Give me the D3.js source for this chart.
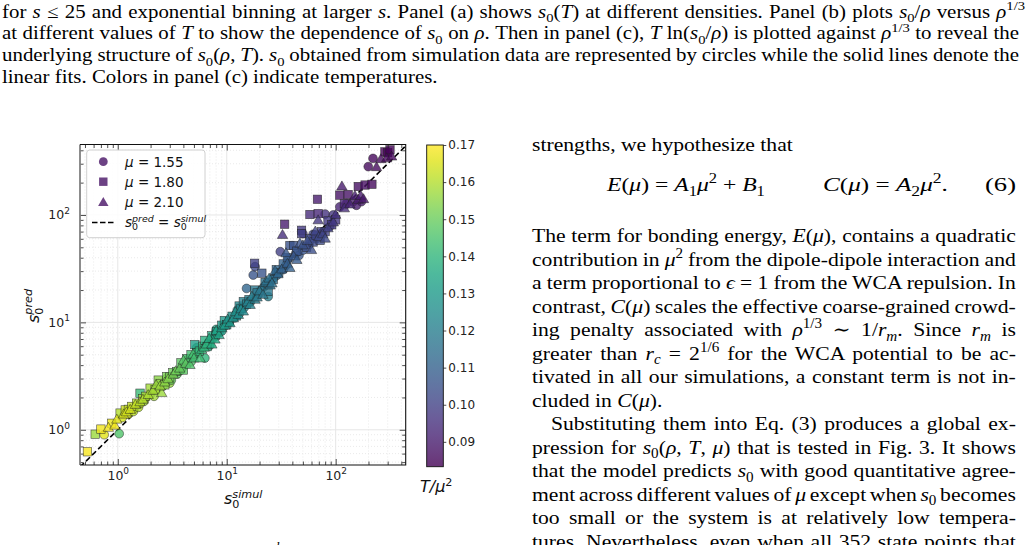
<!DOCTYPE html>
<html>
<head>
<meta charset="utf-8">
<script src="https://cdn.jsdelivr.net/npm/d3@7"></script>
<style>
  body { margin: 0; background: #fff; }
  svg { display: block; }
</style>
</head>
<body>
<div id="fig"></div>
<script>
// s0 simulated vs predicted, coloured by T/mu^2 : [simul, pred, T/mu^2]
var circlePts = [ // mu = 1.55
  [0.75, 0.90, 0.166], [1.03, 0.92, 0.146], [1.10, 1.30, 0.164], [1.25, 1.40, 0.163],
  [1.39, 1.48, 0.161], [1.55, 1.62, 0.160], [1.6, 1.75, 0.160], [1.75, 1.85, 0.158],
  [2.0, 2.15, 0.157], [2.15, 2.05, 0.158], [2.3, 2.4, 0.156], [2.6, 2.55, 0.155],
  [2.8, 3.0, 0.154], [3.0, 2.72, 0.156], [3.1, 2.9, 0.150], [3.5, 3.3, 0.149],
  [3.8, 3.6, 0.149], [4.0, 3.9, 0.147], [4.4, 4.5, 0.146], [4.7, 4.3, 0.146],
  [5.0, 4.8, 0.143], [5.3, 5.8, 0.142], [5.6, 5.5, 0.141], [6.3, 4.65, 0.140],
  [6.8, 6.5, 0.138], [7.0, 6.1, 0.138], [7.6, 7.2, 0.136], [8.0, 8.6, 0.134],
  [8.5, 8.0, 0.133], [9.0, 8.3, 0.132], [9.5, 9.2, 0.131], [10.5, 10.0, 0.129],
  [11.8, 11.0, 0.127], [12.5, 13.0, 0.125], [13.0, 12.0, 0.125], [14.5, 13.8, 0.123],
  [16.5, 15.5, 0.121], [15.2, 20.7, 0.112], [17.5, 27.6, 0.106], [18.2, 33.0, 0.102],
  [24.0, 17.4, 0.121], [19.5, 18.0, 0.119], [20.5, 20.0, 0.117], [22.0, 21.5, 0.117],
  [25.5, 24.0, 0.115], [27.0, 26.0, 0.114], [29.0, 27.5, 0.113], [33.0, 31.0, 0.111],
  [35.0, 34.0, 0.110], [31.0, 45.5, 0.100], [37.0, 39.0, 0.109], [43.0, 44.0, 0.107],
  [46.0, 42.0, 0.107], [50.0, 47.0, 0.106], [50.0, 67.0, 0.098], [57.0, 53.0, 0.104],
  [62.0, 66.0, 0.101], [66.0, 60.0, 0.102], [75.0, 68.0, 0.101], [80.0, 102.0, 0.096],
  [95.0, 100.0, 0.097], [88.0, 78.0, 0.100], [109.0, 119.0, 0.092], [126.0, 128.0, 0.091],
  [145.0, 133.0, 0.090], [155.0, 123.0, 0.090], [172.0, 133.0, 0.090], [199.0, 282.0, 0.086],
  [220.0, 336.0, 0.085]
];
var squarePts = [ // mu = 1.80
  [0.526, 0.624, 0.169], [0.62, 0.91, 0.157], [0.70, 1.015, 0.168], [0.88, 1.15, 0.167],
  [1.05, 1.43, 0.160], [1.17, 1.53, 0.163], [1.25, 1.55, 0.162], [1.34, 1.65, 0.162],
  [1.49, 1.77, 0.161], [1.60, 2.19, 0.142], [1.70, 1.95, 0.160], [1.80, 2.05, 0.159],
  [1.98, 2.44, 0.158], [2.20, 2.36, 0.159], [2.35, 2.90, 0.155], [2.45, 2.70, 0.156],
  [2.70, 2.62, 0.155], [2.81, 3.13, 0.153], [3.00, 3.10, 0.152], [3.20, 3.40, 0.151],
  [3.47, 3.49, 0.150], [3.8, 4.2, 0.148], [4.0, 3.6, 0.148], [4.3, 4.6, 0.145],
  [4.7, 5.0, 0.144], [5.1, 6.2, 0.132], [5.3, 5.2, 0.142], [5.6, 5.4, 0.141],
  [6.0, 6.0, 0.140], [6.3, 6.8, 0.138], [6.6, 5.95, 0.138], [7.3, 7.5, 0.136],
  [7.9, 7.6, 0.134], [8.1, 8.2, 0.133], [9.0, 9.4, 0.131], [9.5, 10.4, 0.130],
  [10.0, 9.5, 0.129], [10.6, 10.2, 0.128], [11.2, 11.4, 0.127], [12.3, 11.5, 0.126],
  [13.0, 14.2, 0.124], [13.5, 13.5, 0.124], [14.2, 15.6, 0.121], [15.2, 14.8, 0.122],
  [16.0, 16.3, 0.120], [18.0, 20.0, 0.118], [19.0, 18.8, 0.118], [18.0, 35.5, 0.100],
  [21.0, 28.7, 0.106], [22.5, 23.5, 0.116], [24.0, 19.4, 0.118], [26.7, 25.0, 0.115],
  [28.5, 31.0, 0.112], [30.0, 29.0, 0.113], [33.0, 35.0, 0.110], [34.0, 82.0, 0.090],
  [36.0, 40.0, 0.108], [38.0, 52.0, 0.105], [41.0, 52.0, 0.105], [44.0, 46.0, 0.106],
  [48.6, 72.0, 0.098], [48.6, 67.0, 0.100], [54.0, 50.0, 0.104], [58.0, 60.0, 0.102],
  [62.0, 56.0, 0.103], [66.0, 65.0, 0.101], [72.0, 58.0, 0.103], [74.0, 70.0, 0.100],
  [80.0, 70.0, 0.100], [85.0, 88.0, 0.098], [92.0, 81.0, 0.098], [100.0, 90.0, 0.097],
  [58.0, 101.0, 0.094], [69.0, 103.0, 0.093], [68.0, 140.0, 0.090], [120.0, 127.0, 0.092],
  [109.0, 153.0, 0.088], [130.0, 155.0, 0.088], [161.0, 184.0, 0.087], [186.0, 190.0, 0.087],
  [215.0, 193.0, 0.086], [283.0, 387.0, 0.084], [300.0, 380.0, 0.084], [315.0, 404.0, 0.084]
];
var trianglePts = [ // mu = 2.10
  [0.82, 1.04, 0.168], [0.94, 1.09, 0.168], [0.98, 1.24, 0.166], [1.13, 1.38, 0.165],
  [1.20, 1.45, 0.164], [1.30, 1.53, 0.164], [1.45, 1.70, 0.162], [1.60, 1.80, 0.161],
  [1.70, 1.90, 0.160], [1.90, 2.10, 0.159], [2.10, 2.30, 0.158], [2.25, 2.60, 0.157],
  [2.53, 2.19, 0.157], [2.44, 2.53, 0.157], [2.7, 2.75, 0.155], [2.9, 2.95, 0.154],
  [3.23, 3.25, 0.152], [3.4, 3.5, 0.151], [3.7, 3.7, 0.150], [4.0, 4.4, 0.147],
  [4.2, 4.1, 0.148], [4.6, 4.0, 0.146], [4.9, 5.0, 0.144], [5.0, 4.6, 0.144],
  [5.7, 4.6, 0.143], [5.9, 5.55, 0.141], [6.2, 5.8, 0.140], [6.5, 6.2, 0.139],
  [6.9, 7.0, 0.137], [7.3, 6.2, 0.137], [7.8, 6.9, 0.136], [8.0, 8.3, 0.134],
  [8.5, 7.6, 0.134], [9.0, 8.8, 0.132], [9.6, 9.3, 0.131], [10.2, 10.6, 0.129],
  [10.7, 9.8, 0.130], [11.5, 10.9, 0.128], [12.0, 12.4, 0.127], [12.8, 11.7, 0.126],
  [13.5, 13.2, 0.125], [14.2, 12.6, 0.124], [15.5, 15.3, 0.122], [16.4, 14.5, 0.122],
  [17.0, 17.3, 0.120], [18.2, 16.2, 0.120], [19.0, 17.0, 0.119], [20.0, 19.4, 0.118],
  [21.5, 18.0, 0.118], [23.0, 24.0, 0.116], [24.5, 25.5, 0.115], [25.0, 22.0, 0.116],
  [26.0, 23.0, 0.115], [27.8, 30.0, 0.112], [29.5, 28.0, 0.112], [32.0, 31.0, 0.110],
  [35.0, 44.0, 0.107], [36.0, 35.0, 0.109], [38.0, 32.0, 0.110], [41.0, 41.0, 0.107],
  [44.0, 38.0, 0.108], [47.0, 54.0, 0.105], [50.0, 52.0, 0.105], [55.0, 57.0, 0.104],
  [32.5, 65.0, 0.095], [60.0, 47.0, 0.104], [65.0, 70.0, 0.101], [70.0, 62.0, 0.102],
  [76.0, 66.0, 0.101], [80.0, 60.0, 0.102], [69.0, 89.0, 0.097], [85.0, 75.0, 0.100],
  [95.0, 85.0, 0.098], [100.0, 100.0, 0.096], [114.0, 184.0, 0.090], [120.0, 115.0, 0.094],
  [135.0, 125.0, 0.092], [150.0, 150.0, 0.091], [161.0, 138.0, 0.090], [170.0, 150.0, 0.090],
  [180.0, 140.0, 0.089], [237.0, 278.0, 0.086], [260.0, 330.0, 0.086], [294.0, 336.0, 0.085],
  [326.0, 349.0, 0.085]
];
var muLabels = ["1.55", "1.80", "2.10"];
var logTicks = [1, 10, 100];
var cbTicks = [0.09, 0.10, 0.11, 0.12, 0.13, 0.14, 0.15, 0.16, 0.17];
var cbDomain = [0.0833, 0.17];

var svg = d3.select("#fig").append("svg")
  .attr("width", 1028)
  .attr("height", 545);

var serif = "'Liberation Serif', 'DejaVu Serif', serif";
var sans = "'DejaVu Sans', sans-serif";

// text with italic / sub / sup runs; optional justification and stretch
function rich(g, x, y, parts, o) {
  var t = g.append("text")
    .style("font-family", o.font)
    .style("font-size", o.size + "px")
    .attr("fill", o.fill || "#000");
  var shift = 0, prev = null;
  parts.forEach(function(p) {
    var s = p[1] || "";
    var sp = t.append("tspan").text(p[0]);
    var target = 0;
    if (s.indexOf("i") === 0) sp.style("font-style", "italic");
    if (s.indexOf("sub") >= 0) target = o.size * 0.25;
    if (s.indexOf("sup") >= 0) target = -o.size * 0.4;
    if (target !== 0) sp.style("font-size", (o.size * 0.7) + "px");
    if (target !== shift) sp.attr("dy", target - shift);
    shift = target;
    if (p[2] === "back" && prev) sp.attr("dx", -prev.node().getComputedTextLength());
    prev = sp;
  });
  var w = t.node().getComputedTextLength();
  var sx = o.sx || 1;
  if (o.fit) sx = o.width / w;
  if (o.justify) {
    var n = (t.text().match(/ /g) || []).length;
    t.style("word-spacing", ((o.width / sx - w) / n) + "px");
  }
  t.attr("transform", "translate(" + x + "," + y + ") scale(" + sx + ",1)");
  return t;
}

// ---------- caption above (end of previous figure caption) ----------
var cap = svg.append("g");
var capLines = [
  [["for "], ["s", "i"], [" \u2264 25 and exponential binning at larger "], ["s", "i"], [". Panel (a) shows "],
   ["s", "i"], ["0", "sub"], ["("], ["T", "i"], [") at different densities. Panel (b) plots "], ["s", "i"], ["0", "sub"],
   ["/"], ["\u03c1", "i"], [" versus "], ["\u03c1", "i"], ["1/3", "sup"]],
  [["at different values of "], ["T", "i"], [" to show the dependence of "], ["s", "i"], ["0", "sub"], [" on "],
   ["\u03c1", "i"], [". Then in panel (c), "], ["T", "i"], [" ln("], ["s", "i"], ["0", "sub"], ["/"], ["\u03c1", "i"],
   [") is plotted against "], ["\u03c1", "i"], ["1/3", "sup"], [" to reveal the"]],
  [["underlying structure of "], ["s", "i"], ["0", "sub"], ["("], ["\u03c1", "i"], [", "], ["T", "i"], ["). "],
   ["s", "i"], ["0", "sub"], [" obtained from simulation data are represented by circles while the solid lines denote the"]],
  [["linear fits. Colors in panel (c) indicate temperatures."]]
];
capLines.forEach(function(l, i) {
  rich(cap, 2, 17.5 + i * 21.7, l, {font: serif, size: 18.5, sx: 1.13,
    justify: i < 3, width: i === 0 ? 1024 : 1018});
});

// ---------- right column text ----------
var col = svg.append("g");
var colSx = 1.11;
rich(col, 532, 151, [["strengths, we hypothesize that"]], {font: serif, size: 19.5, sx: colSx});
rich(col, 607, 191, [["E", "i"], ["("], ["\u03bc", "i"], [") = "], ["A", "i"], ["1", "sub"], ["\u03bc", "i"], ["2", "sup"],
  [" + "], ["B", "i"], ["1", "sub"]], {font: serif, size: 19.5, fit: true, width: 158});
rich(col, 823, 191, [["C", "i"], ["("], ["\u03bc", "i"], [") = "], ["A", "i"], ["2", "sub"], ["\u03bc", "i"], ["2", "sup"], ["."]],
  {font: serif, size: 19.5, fit: true, width: 125});
rich(col, 985, 191, [["(6)"]], {font: serif, size: 19.5, fit: true, width: 31});

var colLines = [
  [[["The term for bonding energy, "], ["E", "i"], ["("], ["\u03bc", "i"], ["), contains a quadratic"]], 1, 0],
  [[["contribution in "], ["\u03bc", "i"], ["2", "sup"], [" from the dipole-dipole interaction and"]], 1, 0],
  [[["a term proportional to "], ["\u03f5", "i"], [" = 1 from the WCA repulsion. In"]], 1, 0],
  [[["contrast, "], ["C", "i"], ["("], ["\u03bc", "i"], [") scales the effective coarse-grained crowd-"]], 1, 0],
  [[["ing penalty associated with "], ["\u03c1", "i"], ["1/3", "sup"], [" \u223c 1/"], ["r", "i"], ["m", "isub"],
    [". Since "], ["r", "i"], ["m", "isub"], [" is"]], 1, 0],
  [[["greater than "], ["r", "i"], ["c", "isub"], [" = 2"], ["1/6", "sup"], [" for the WCA potential to be ac-"]], 1, 0],
  [[["tivated in all our simulations, a constant term is not in-"]], 1, 0],
  [[["cluded in "], ["C", "i"], ["("], ["\u03bc", "i"], [")."]], 0, 0],
  [[["Substituting them into Eq. (3) produces a global ex-"]], 1, 19],
  [[["pression for "], ["s", "i"], ["0", "sub"], ["("], ["\u03c1", "i"], [", "], ["T", "i"], [", "], ["\u03bc", "i"],
    [") that is tested in Fig. 3. It shows"]], 1, 0],
  [[["that the model predicts "], ["s", "i"], ["0", "sub"], [" with good quantitative agree-"]], 1, 0],
  [[["ment across different values of "], ["\u03bc", "i"], [" except when "], ["s", "i"], ["0", "sub"], [" becomes"]], 1, 0],
  [[["too small or the system is at relatively low tempera-"]], 1, 0],
  [[["tures. Nevertheless, even when all 352 state points that"]], 1, 0]
];
colLines.forEach(function(l, i) {
  rich(col, 532 + l[2], 242 + i * 23.5, l[0], {font: serif, size: 19.5, sx: colSx,
    justify: l[1] === 1, width: 484 - l[2]});
});

// bottom: start of the next caption, cut off
svg.append("text")
  .attr("x", 256).attr("y", 551)
  .style("font-family", serif).style("font-size", "13px").style("font-style", "italic")
  .text("pred");

// ---------- scatter plot ----------
var pL = 80, pR = 405.7, pT = 144.5, pB = 465;
var x = d3.scaleLog().domain([0.45, 439]).range([pL, pR]);
var y = d3.scaleLog().domain([0.47, 453]).range([pB, pT]);
var color = d3.scaleSequential(d3.interpolateViridis).domain(cbDomain);

var isMajor = function(d) { return Math.abs(Math.log10(d) - Math.round(Math.log10(d))) < 1e-9; };
var xMinor = x.ticks().filter(function(d) { return !isMajor(d); });
var yMinor = y.ticks().filter(function(d) { return !isMajor(d); });

var plot = svg.append("g");

// grid
plot.append("g").selectAll("line").data(xMinor).enter().append("line")
  .attr("x1", d => x(d)).attr("x2", d => x(d)).attr("y1", pT).attr("y2", pB)
  .attr("stroke", "#e4e4e4").attr("stroke-width", 0.8).attr("stroke-dasharray", "1,2");
plot.append("g").selectAll("line").data(yMinor).enter().append("line")
  .attr("y1", d => y(d)).attr("y2", d => y(d)).attr("x1", pL).attr("x2", pR)
  .attr("stroke", "#e4e4e4").attr("stroke-width", 0.8).attr("stroke-dasharray", "1,2");
plot.append("g").selectAll("line").data(logTicks).enter().append("line")
  .attr("x1", d => x(d)).attr("x2", d => x(d)).attr("y1", pT).attr("y2", pB)
  .attr("stroke", "#e6e6e6").attr("stroke-width", 1);
plot.append("g").selectAll("line").data(logTicks).enter().append("line")
  .attr("y1", d => y(d)).attr("y2", d => y(d)).attr("x1", pL).attr("x2", pR)
  .attr("stroke", "#e6e6e6").attr("stroke-width", 1);

svg.append("clipPath").attr("id", "clip")
  .append("rect").attr("x", pL).attr("y", pT).attr("width", pR - pL).attr("height", pB - pT);

var marks = plot.append("g").attr("clip-path", "url(#clip)");

// identity line
var lo = 0.45, hi = 460;
marks.append("line")
  .attr("x1", x(lo)).attr("y1", y(lo)).attr("x2", x(hi)).attr("y2", y(hi))
  .attr("stroke", "#000").attr("stroke-width", 1.6).attr("stroke-dasharray", "5.5,3");

var triPath = "M0,-5.6L5.2,3.4L-5.2,3.4Z";

function styleMark(sel) {
  sel.attr("fill", d => color(d[2])).attr("fill-opacity", 0.8)
    .attr("stroke", "#222").attr("stroke-opacity", 0.8).attr("stroke-width", 0.6);
}

marks.append("g").selectAll("circle").data(circlePts).enter().append("circle")
  .attr("cx", d => x(d[0])).attr("cy", d => y(d[1])).attr("r", 4.4)
  .call(styleMark);
marks.append("g").selectAll("rect").data(squarePts).enter().append("rect")
  .attr("x", d => x(d[0]) - 4.2).attr("y", d => y(d[1]) - 4.2)
  .attr("width", 8.4).attr("height", 8.4)
  .call(styleMark);
marks.append("g").selectAll("path").data(trianglePts).enter().append("path")
  .attr("d", triPath)
  .attr("transform", d => "translate(" + x(d[0]) + "," + y(d[1]) + ")")
  .call(styleMark);

// axes, ticks pointing inward on all four sides
function powLabels(g) {
  g.selectAll(".tick text").text("10")
    .append("tspan").attr("dy", -5.5).style("font-size", "9px")
    .text(d => Math.round(Math.log10(d)));
}
function styleAxis(g) {
  g.select(".domain").remove();
  g.selectAll(".tick line").attr("stroke", "#222").attr("stroke-width", 0.8);
}
var axisFont = function(size) {
  return function(g) { g.attr("font-family", sans).attr("font-size", size); };
};

svg.append("g").attr("transform", "translate(0," + pB + ")")
  .call(d3.axisBottom(x).tickValues(logTicks).tickSize(-6).tickPadding(6))
  .call(styleAxis).call(powLabels).call(axisFont(12.5))
  .selectAll("text").attr("fill", "#222");
svg.append("g").attr("transform", "translate(0," + pB + ")")
  .call(d3.axisBottom(x).tickValues(xMinor).tickSize(-3.5).tickFormat("")).call(styleAxis);
svg.append("g").attr("transform", "translate(0," + pT + ")")
  .call(d3.axisTop(x).tickValues(logTicks).tickSize(-6).tickFormat("")).call(styleAxis);
svg.append("g").attr("transform", "translate(0," + pT + ")")
  .call(d3.axisTop(x).tickValues(xMinor).tickSize(-3.5).tickFormat("")).call(styleAxis);

svg.append("g").attr("transform", "translate(" + pL + ",0)")
  .call(d3.axisLeft(y).tickValues(logTicks).tickSize(-6).tickPadding(10))
  .call(styleAxis).call(powLabels).call(axisFont(12.5))
  .selectAll("text").attr("fill", "#222");
svg.append("g").attr("transform", "translate(" + pL + ",0)")
  .call(d3.axisLeft(y).tickValues(yMinor).tickSize(-3.5).tickFormat("")).call(styleAxis);
svg.append("g").attr("transform", "translate(" + pR + ",0)")
  .call(d3.axisRight(y).tickValues(logTicks).tickSize(-6).tickFormat("")).call(styleAxis);
svg.append("g").attr("transform", "translate(" + pR + ",0)")
  .call(d3.axisRight(y).tickValues(yMinor).tickSize(-3.5).tickFormat("")).call(styleAxis);

// frame
svg.append("line").attr("x1", pL).attr("x2", pL).attr("y1", pT).attr("y2", pB)
  .attr("stroke", "#808080").attr("stroke-width", 1.8);
svg.append("path")
  .attr("d", "M" + pL + "," + pT + "H" + pR + "V" + pB + "H" + pL)
  .attr("fill", "none").attr("stroke", "#111").attr("stroke-width", 1.1);

// axis labels
rich(svg, 224, 504, [["s", "i"], ["0", "sub"], ["simul", "isup", "back"]], {font: sans, size: 16, fill: "#111"});
rich(svg.append("g").attr("transform", "translate(38.5,323) rotate(-90)"), 0, 0,
  [["s", "i"], ["0", "sub"], ["pred", "isup", "back"]], {font: sans, size: 16, fill: "#111"});

// legend
var leg = svg.append("g");
leg.append("rect")
  .attr("x", 86.7).attr("y", 150).attr("width", 118.3).attr("height", 87.7).attr("rx", 3)
  .attr("fill", "#fff").attr("fill-opacity", 0.85).attr("stroke", "#d0d0d0").attr("stroke-width", 1);
var legColor = color(0.0875);
leg.append("circle").attr("cx", 103.3).attr("cy", 161.7).attr("r", 4.4)
  .attr("fill", legColor).attr("fill-opacity", 0.8);
leg.append("rect").attr("x", 99.1).attr("y", 177.5).attr("width", 8.4).attr("height", 8.4)
  .attr("fill", legColor).attr("fill-opacity", 0.8);
leg.append("path").attr("d", triPath).attr("transform", "translate(103.3,202.5)")
  .attr("fill", legColor).attr("fill-opacity", 0.8);
leg.append("line").attr("x1", 92).attr("x2", 115).attr("y1", 222.5).attr("y2", 222.5)
  .attr("stroke", "#000").attr("stroke-width", 1.6).attr("stroke-dasharray", "5.5,2.5");
muLabels.forEach(function(m, i) {
  rich(leg, 125, 166.5 + i * 20, [["\u03bc", "i"], [" = " + m]], {font: sans, size: 13.5, fill: "#111"});
});
rich(leg, 125, 227, [["s", "i"], ["0", "sub"], ["pred", "isup", "back"], [" = "], ["s", "i"], ["0", "sub"],
  ["simul", "isup", "back"]], {font: sans, size: 13.5, fill: "#111"});

// colour bar
var cbX = 426.7, cbW = 16.6, cbTop = 145, cbBot = 466.7;
var cb = d3.scaleLinear().domain(cbDomain).range([cbBot, cbTop]);
var grad = svg.append("defs").append("linearGradient").attr("id", "vir")
  .attr("x1", 0).attr("y1", 1).attr("x2", 0).attr("y2", 0);
d3.range(0, 1.0001, 0.05).forEach(function(t) {
  grad.append("stop").attr("offset", t)
    .attr("stop-color", d3.interpolateViridis(t)).attr("stop-opacity", 0.8);
});
svg.append("rect").attr("x", cbX).attr("y", cbTop).attr("width", cbW).attr("height", cbBot - cbTop)
  .attr("fill", "url(#vir)").attr("stroke", "#111").attr("stroke-width", 0.9);
svg.append("g").attr("transform", "translate(" + (cbX + cbW) + ",0)")
  .call(d3.axisRight(cb).tickValues(cbTicks).tickSize(3).tickPadding(2).tickFormat(d3.format(".2f")))
  .call(styleAxis).call(axisFont(12))
  .selectAll("text").attr("fill", "#222");
rich(svg, 420, 492, [["T/\u03bc", "i"], ["2", "sup"]], {font: sans, size: 16, fill: "#111"});
</script>
</body>
</html>
